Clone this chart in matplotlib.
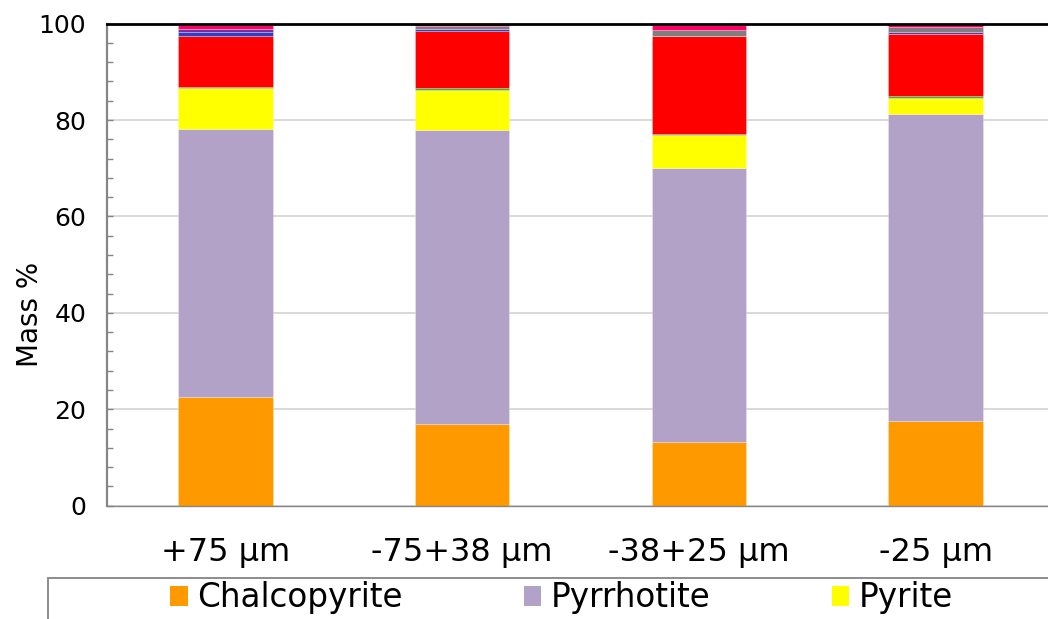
import matplotlib
matplotlib.use("Agg")
import matplotlib.pyplot as plt
import numpy as np
from matplotlib.patches import Patch, Rectangle
from matplotlib.ticker import MultipleLocator

# Size fractions on the x axis
categories = ['+75 µm', '-75+38 µm', '-38+25 µm', '-25 µm']

# Mineral mass % per size fraction, stacked bottom to top
chalcopyrite = [22.6, 16.9, 13.2, 17.6]
pyrrhotite = [55.5, 61.0, 56.8, 63.6]
pyrite = [8.6, 8.4, 6.8, 3.4]
other_green = [0.2, 0.4, 0.3, 0.4]
other_red = [10.6, 11.8, 20.3, 12.8]
other_blue = [0.7, 0.4, 0.0, 0.0]
other_purple = [0.7, 0.0, 0.0, 0.5]
other_gray = [0.0, 0.6, 1.3, 0.9]
other_pink = [1.1, 0.5, 1.3, 0.8]

legend_labels = ['Chalcopyrite', 'Pyrrhotite', 'Pyrite']

series = [
    (chalcopyrite, '#FF9900'),
    (pyrrhotite, '#B3A2C7'),
    (pyrite, '#FFFF00'),
    (other_green, '#3CB43C'),
    (other_red, '#FF0000'),
    (other_blue, '#2E40C8'),
    (other_purple, '#7030A0'),
    (other_gray, '#7F7F7F'),
    (other_pink, '#FF0066'),
]

plt.rcParams['font.family'] = ['DejaVu Sans']

fig = plt.figure(figsize=(10.48, 6.19), dpi=100)
ax = fig.add_axes([107 / 1048, 1 - 505.7 / 619, 947 / 1048, (505.7 - 23.6) / 619])

x = np.arange(len(categories))
bottom = np.zeros(len(categories))
for values, color in series:
    vals = np.array(values, dtype=float)
    ax.bar(x, vals, width=0.4, bottom=bottom, color=color,
           edgecolor=(1, 1, 1, 0.45), linewidth=0.4, zorder=2)
    bottom += vals

ax.set_xlim(-0.5, 3.5)
ax.set_ylim(0, 100)
ax.set_xticks(x)
ax.set_xticklabels(categories, fontsize=23)
ax.tick_params(axis='x', length=0, pad=22.5)

ax.yaxis.set_major_locator(MultipleLocator(20))
ax.yaxis.set_minor_locator(MultipleLocator(4))
ax.tick_params(axis='y', which='both', direction='in', length=4.3,
               width=1.0, color='#868686', labelsize=18, pad=15)

# Axis title sits a little below the plot's vertical centre
fig.text(30 / 1048, 1 - 314 / 619, 'Mass %', rotation=90, fontsize=20,
         ha='center', va='center')

ax.grid(axis='y', which='major', color='#D9D9D9', linewidth=1.4, zorder=0)
ax.set_axisbelow(True)

for side in ('left', 'bottom'):
    ax.spines[side].set_color('#868686')
ax.spines['left'].set_linewidth(1.6)
ax.spines['bottom'].set_linewidth(1.0)
ax.spines['top'].set_color('black')
ax.spines['top'].set_linewidth(2.0)
ax.spines['right'].set_visible(False)

# Legend box runs past the figure edges
fig.patches.append(Rectangle((48 / 1048, -0.1), 1.2, 0.1 + (619 - 578) / 619,
                             transform=fig.transFigure, fill=False,
                             edgecolor='#8C8C8C', linewidth=1.4))

handles = [Patch(facecolor=series[i][1], edgecolor='none') for i in range(3)]
fig.legend(handles, legend_labels, loc='center left',
           bbox_to_anchor=(170 / 1048, 1 - 598 / 619), ncol=3, frameon=False,
           fontsize=23.5, handlelength=0.54, handleheight=0.54,
           handletextpad=0.3, columnspacing=3.7, borderpad=0, borderaxespad=0)

fig.savefig('out.png', dpi=100)
